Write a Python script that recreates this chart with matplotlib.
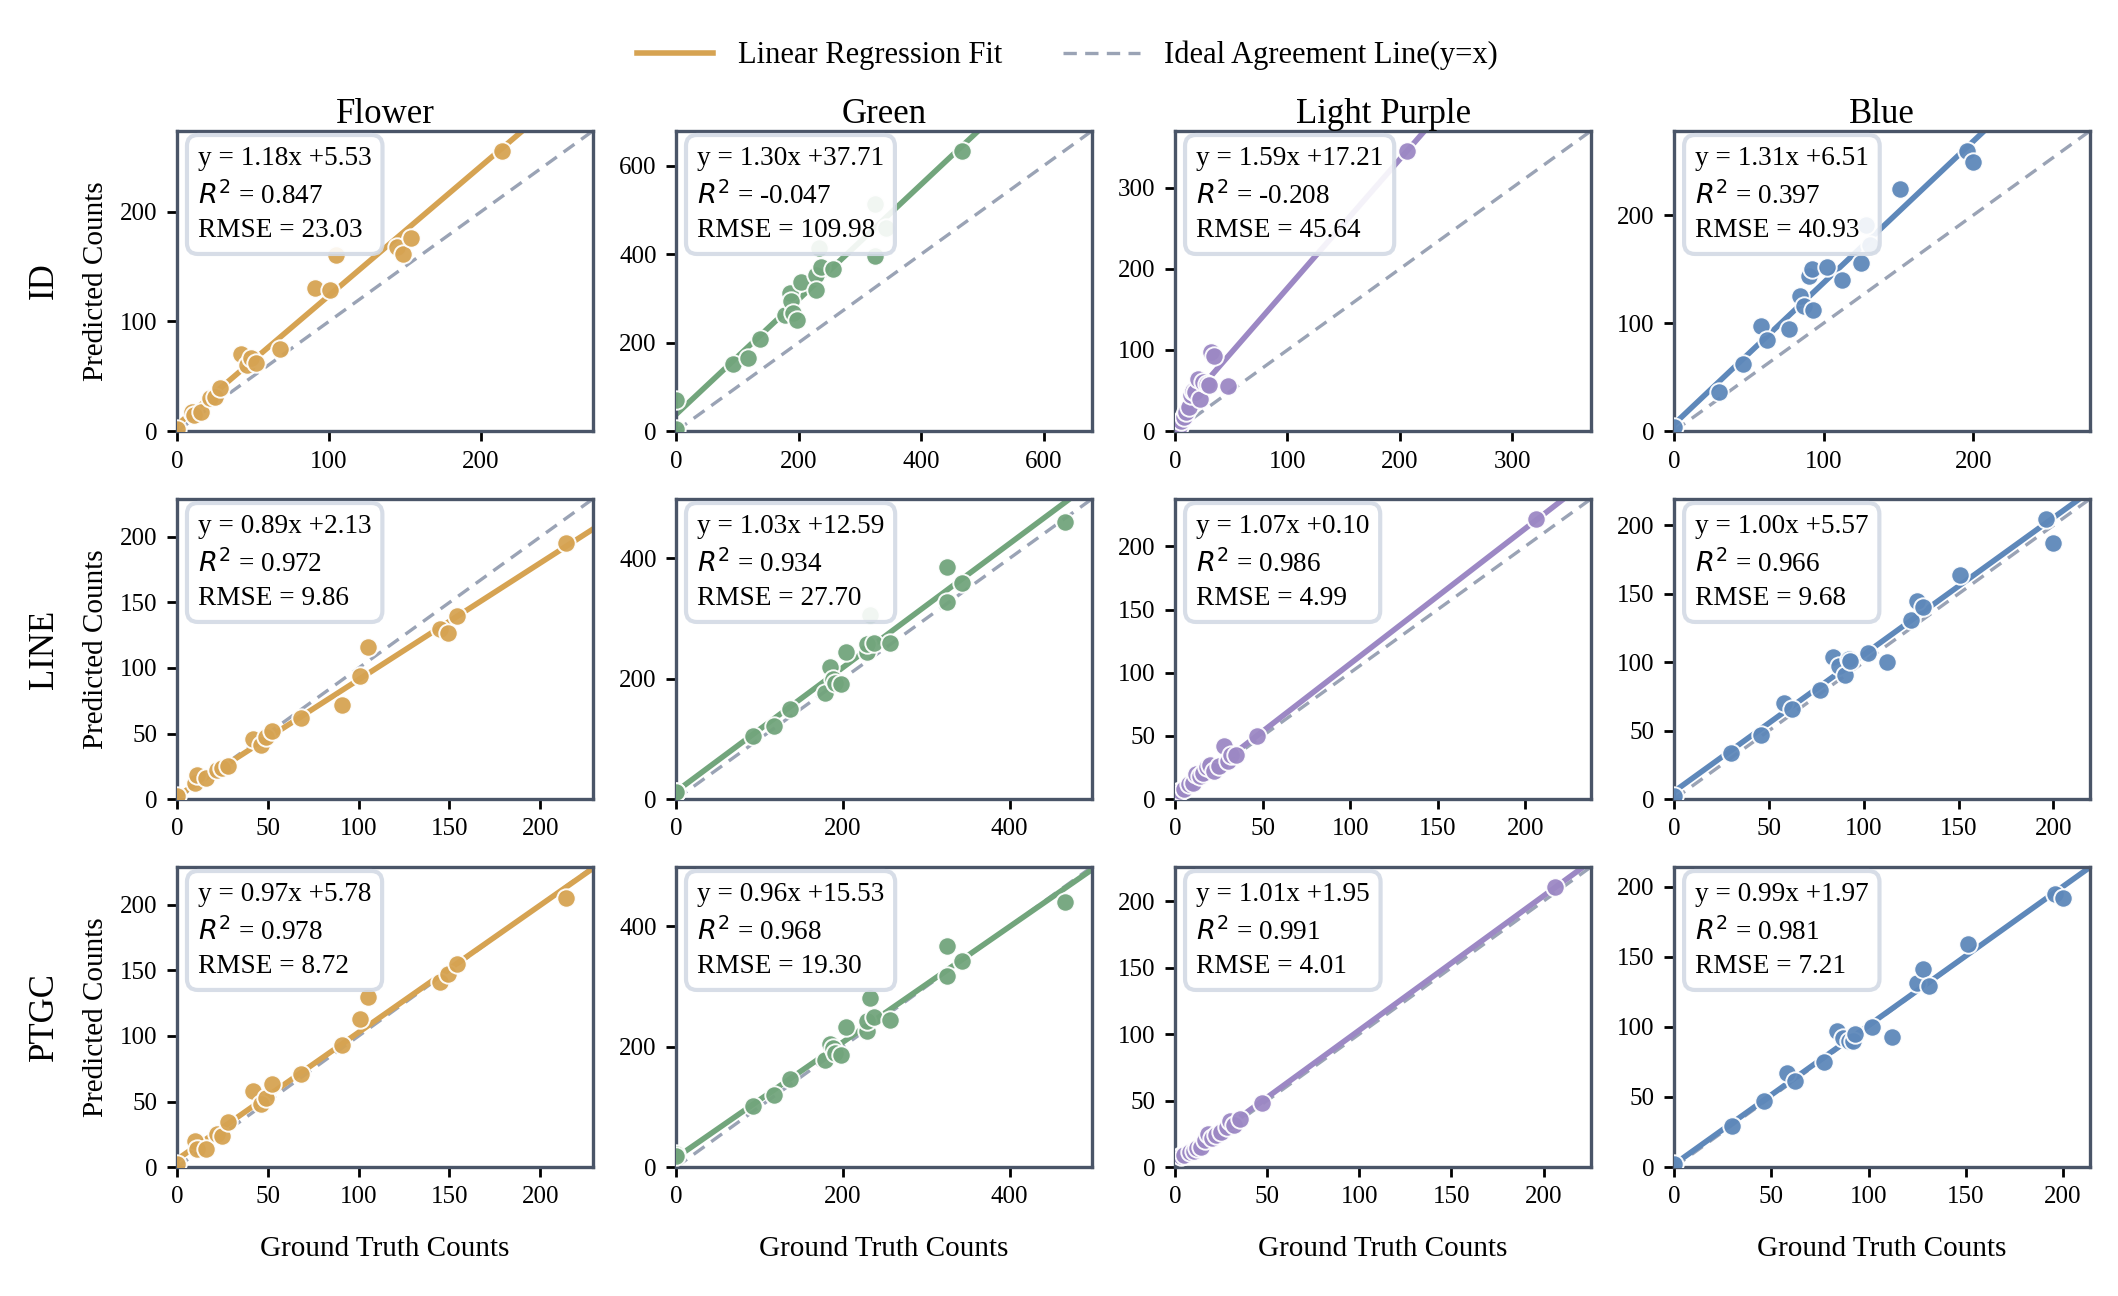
import numpy as np
import matplotlib
matplotlib.use("Agg")
import matplotlib.pyplot as plt
from matplotlib.lines import Line2D
from matplotlib.ticker import MultipleLocator

plt.rcParams['font.family'] = ['Liberation Serif', 'DejaVu Serif']

classes = ["Flower", "Green", "Light Purple", "Blue"]
methods = ["ID", "LINE", "PTGC"]
colors = ["#D6A352", "#72A57C", "#9C88C4", "#5E88BA"]

# ground truth counts per class (shared by all methods)
gt_flower = [0, 10, 11, 16, 22, 25, 28, 42, 46, 49, 52, 68, 91, 101, 105, 145, 149, 154, 214]
gt_green = [0, 0, 92, 117, 137, 178, 185, 188, 191, 198, 204, 229, 229, 233, 237, 256, 325, 325, 343, 466]
gt_purple = [3, 5, 8, 10, 12, 14, 16, 18, 20, 22, 25, 28, 30, 32, 35, 47, 206]
gt_blue = [0, 30, 46, 58, 62, 77, 84, 87, 90, 92, 93, 102, 112, 125, 128, 131, 151, 196, 200]

# predicted counts, ID
id_flower = [2, 17, 15, 17, 30, 31, 39, 70, 60, 67, 62, 75, 131, 129, 161, 168, 162, 176, 256]
id_green = [5, 70, 152, 165, 209, 262, 311, 294, 266, 250, 336, 353, 319, 414, 370, 366, 514, 396, 459, 634]
id_purple = [5, 12, 17, 23, 30, 45, 50, 48, 64, 40, 60, 58, 57, 97, 93, 56, 346]
id_blue = [4, 36, 62, 97, 84, 95, 125, 116, 144, 150, 112, 152, 140, 156, 191, 172, 224, 260, 249]

# predicted counts, LINE
line_flower = [2, 12, 18, 16, 22, 24, 25, 46, 41, 47, 52, 62, 72, 94, 116, 130, 127, 140, 195]
line_green = [11, 11, 105, 121, 150, 177, 219, 200, 193, 191, 244, 244, 258, 305, 260, 260, 385, 328, 359, 460]
line_purple = [6, 8, 12, 13, 20, 18, 21, 25, 27, 22, 26, 42, 30, 35, 35, 50, 222]
line_blue = [2, 34, 47, 70, 66, 80, 104, 97, 91, 102, 101, 107, 100, 131, 145, 140, 164, 205, 187]

# predicted counts, PTGC
ptgc_flower = [2, 20, 14, 14, 25, 24, 34, 58, 48, 53, 63, 71, 93, 113, 130, 141, 147, 155, 205]
ptgc_green = [22, 18, 101, 119, 146, 178, 205, 197, 190, 186, 232, 226, 242, 280, 250, 244, 367, 318, 342, 440]
ptgc_purple = [8, 9, 11, 12, 14, 15, 20, 25, 22, 24, 26, 30, 35, 32, 36, 48, 211]
ptgc_blue = [2, 29, 47, 67, 61, 75, 97, 92, 90, 90, 95, 100, 93, 131, 141, 129, 159, 195, 192]

# fitted statistics as printed on the chart
slopes = [[1.18, 1.30, 1.59, 1.31], [0.89, 1.03, 1.07, 1.00], [0.97, 0.96, 1.01, 0.99]]
intercepts = [[5.53, 37.71, 17.21, 6.51], [2.13, 12.59, 0.10, 5.57], [5.78, 15.53, 1.95, 1.97]]
r2_vals = ["0.847", "-0.047", "-0.208", "0.397", "0.972", "0.934", "0.986", "0.966",
           "0.978", "0.968", "0.991", "0.981"]
rmse_vals = ["23.03", "109.98", "45.64", "40.93", "9.86", "27.70", "4.99", "9.68",
             "8.72", "19.30", "4.01", "7.21"]

gts = [gt_flower, gt_green, gt_purple, gt_blue]
preds = [[id_flower, id_green, id_purple, id_blue],
         [line_flower, line_green, line_purple, line_blue],
         [ptgc_flower, ptgc_green, ptgc_purple, ptgc_blue]]
tick_steps = [[100, 200, 100, 100], [50, 200, 50, 50], [50, 200, 50, 50]]

fig, axes = plt.subplots(3, 4, figsize=(10.59, 6.48), dpi=200)
fig.subplots_adjust(left=0.0836, right=0.9868, top=0.899, bottom=0.0995,
                    wspace=0.2, hspace=0.226)

spine_col = "#4A5568"
for r in range(3):
    for c in range(4):
        ax = axes[r, c]
        x = np.array(gts[c], dtype=float)
        y = np.array(preds[r][c], dtype=float)
        lim = max(x.max(), y.max()) * 1.07
        xx = np.array([0, lim])
        ax.plot(xx, xx, ls=(0, (4, 2.5)), color="#9AA3B5", lw=1.2, zorder=1)
        ax.plot(xx, slopes[r][c] * xx + intercepts[r][c], color=colors[c], lw=2, zorder=2)
        ax.scatter(x, y, s=44, color=colors[c], edgecolor="white", linewidth=0.7,
                   alpha=0.95, zorder=3)
        ax.set_xlim(0, lim)
        ax.set_ylim(0, lim)
        ax.xaxis.set_major_locator(MultipleLocator(tick_steps[r][c]))
        ax.yaxis.set_major_locator(MultipleLocator(tick_steps[r][c]))
        ax.tick_params(labelsize=9, length=3.5, width=1, colors="black")
        for sp in ax.spines.values():
            sp.set_color(spine_col)
            sp.set_linewidth(1.2)
        k = r * 4 + c
        txt = "y = %.2fx +%.2f\n$R^2$ = %s\nRMSE = %s" % (slopes[r][c], intercepts[r][c],
                                                         r2_vals[k], rmse_vals[k])
        ax.text(0.05, 0.95, txt, transform=ax.transAxes, fontsize=9.8, va="top", ha="left",
                linespacing=1.45, zorder=5,
                bbox=dict(boxstyle="round,pad=0.4", facecolor="white", alpha=0.9,
                          edgecolor="#D3DAE5", linewidth=1.5))
        if r == 0:
            ax.set_title(classes[c], fontsize=12.5, pad=3)
        if r == 2:
            ax.set_xlabel("Ground Truth Counts", fontsize=10.5, labelpad=10)
        if c == 0:
            ax.set_ylabel("Predicted Counts", fontsize=10.5, labelpad=4)

for r in range(3):
    pos = axes[r, 0].get_position()
    fig.text(0.021, (pos.y0 + pos.y1) / 2, methods[r], rotation=90, fontsize=12.5,
             va="center", ha="center")

handles = [Line2D([0], [0], color=colors[0], lw=2),
           Line2D([0], [0], color="#9AA3B5", lw=1.2, ls=(0, (4, 2.5)))]
fig.legend(handles, ["Linear Regression Fit", "Ideal Agreement Line(y=x)"],
           loc="center", bbox_to_anchor=(0.504, 0.957), ncol=2, frameon=False,
           fontsize=11, handlelength=2.5, columnspacing=2.0)

fig.savefig("out.png", dpi=200)
